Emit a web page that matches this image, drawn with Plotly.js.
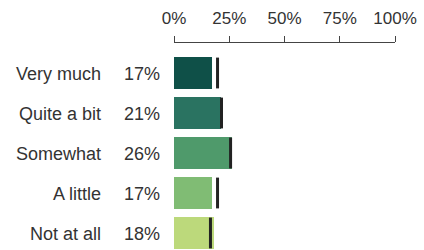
<!DOCTYPE html>
<html>
<head>
<meta charset="utf-8">
<script src="https://cdn.plot.ly/plotly-3.0.1.min.js"></script>
<style>html,body{margin:0;padding:0;background:#fff;}#chart{width:424px;height:250px;}</style>
</head>
<body>
<div id="chart"></div>
<script>
const categories = ["Very much", "Quite a bit", "Somewhat", "A little", "Not at all"];
const values = [17.2, 21.3, 26.2, 17.2, 18.1];
const valueLabels = ["17%", "21%", "26%", "17%", "18%"];
const referenceValues = [19.7, 21.5, 25.6, 19.7, 16.5];
const barColors = ["#0f5048", "#2a7361", "#4f9a6b", "#80bc74", "#bcd97b"];
const tickVals = [0, 25, 50, 75, 100];
const tickText = ["0%", "25%", "50%", "75%", "100%"];

const FONT = "Liberation Sans, Arial, sans-serif";
const TEXT = "#333333";

const traces = [
  {
    type: "bar", orientation: "h",
    y: categories, x: values,
    marker: {color: barColors, line: {width: 0}},
    width: 0.8, hoverinfo: "none", showlegend: false
  },
  {
    type: "scatter", mode: "markers",
    y: categories, x: referenceValues,
    marker: {symbol: "line-ns", size: 22, color: "#222222", line: {width: 3, color: "#222222"}},
    hoverinfo: "none", showlegend: false, cliponaxis: false
  }
];

const annotations = [];
categories.forEach((c, i) => {
  annotations.push({xref: "paper", yref: "y", x: 0, y: c, xanchor: "right", yanchor: "middle",
    xshift: -71, yshift: -1, text: c, showarrow: false, font: {family: FONT, size: 18, color: TEXT}});
  annotations.push({xref: "paper", yref: "y", x: 0, y: c, xanchor: "right", yanchor: "middle",
    xshift: -12, yshift: -1, text: valueLabels[i], showarrow: false, font: {family: FONT, size: 18, color: TEXT}});
});

const layout = {
  width: 424, height: 250,
  margin: {l: 174, r: 29, t: 43, b: 0, pad: 0},
  paper_bgcolor: "#ffffff", plot_bgcolor: "#ffffff",
  font: {family: FONT, color: TEXT},
  xaxis: {
    side: "top", range: [0, 100], tickvals: tickVals, ticktext: tickText,
    showgrid: false, zeroline: false, showline: true, linecolor: "#444444", linewidth: 1,
    ticks: "outside", ticklen: 6, tickcolor: "#444444", tickwidth: 1, ticklabelstandoff: 5,
    tickfont: {family: FONT, size: 17, color: TEXT}, fixedrange: true
  },
  yaxis: {
    type: "category", categoryorder: "array", categoryarray: categories,
    range: [4.425, -0.75], showticklabels: false, showgrid: false, zeroline: false,
    showline: false, ticks: "", fixedrange: true
  },
  annotations: annotations,
  bargap: 0.2
};

Plotly.newPlot("chart", traces, layout, {displayModeBar: false, staticPlot: true});
</script>
</body>
</html>
